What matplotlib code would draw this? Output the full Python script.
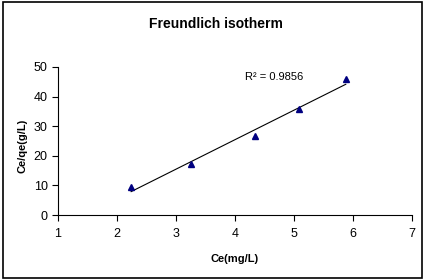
import matplotlib
matplotlib.use("Agg")
import matplotlib.pyplot as plt
from matplotlib.patches import Rectangle
import numpy as np

plt.rcParams['font.family'] = ['Liberation Sans', 'DejaVu Sans']

# data
ce = [2.24, 3.26, 4.34, 5.08, 5.88]
ce_qe = [9.6, 17.1, 26.7, 35.7, 46.0]
r2_label = "R² = 0.9856"
x_ticks = [1, 2, 3, 4, 5, 6, 7]
y_ticks = [0, 10, 20, 30, 40, 50]

fig = plt.figure(figsize=(4.25, 2.8), dpi=100)
ax = fig.add_axes([0.1365, 0.232, 0.8325, 0.529])

# linear trendline
slope, icpt = np.polyfit(ce, ce_qe, 1)
xf = np.array([min(ce), max(ce)])
ax.plot(xf, slope * xf + icpt, color='black', linewidth=0.8, zorder=2)
ax.plot(ce, ce_qe, linestyle='none', marker='^', markersize=5,
        color='#000080', zorder=3)

ax.text(4.17, 46.6, r2_label, fontsize=8, ha='left', va='center')

ax.set_xlim(1, 7)
ax.set_ylim(0, 50)
ax.set_xticks(x_ticks)
ax.set_yticks(y_ticks)
ax.tick_params(direction='out', length=4, width=0.8, labelsize=9)
ax.tick_params(axis='x', pad=5)
ax.spines['top'].set_visible(False)
ax.spines['right'].set_visible(False)
for s in ['left', 'bottom']:
  ax.spines[s].set_linewidth(0.8)

ax.set_xlabel("Ce(mg/L)", fontsize=8, fontweight='bold')
ax.set_ylabel("Ce/qe(g/L)", fontsize=8, fontweight='bold')
ax.xaxis.set_label_coords(0.5, -0.265)
ax.yaxis.set_label_coords(-0.085, 0.465)
fig.text(0.507, 0.914, "Freundlich isotherm", fontsize=10, fontweight='bold',
         ha='center', va='center')

# outer border
fig.patches.append(Rectangle((0.006, 0.008), 0.988, 0.984, transform=fig.transFigure,
                             fill=False, edgecolor='black', linewidth=1.2))

fig.savefig("out.png", dpi=100)
